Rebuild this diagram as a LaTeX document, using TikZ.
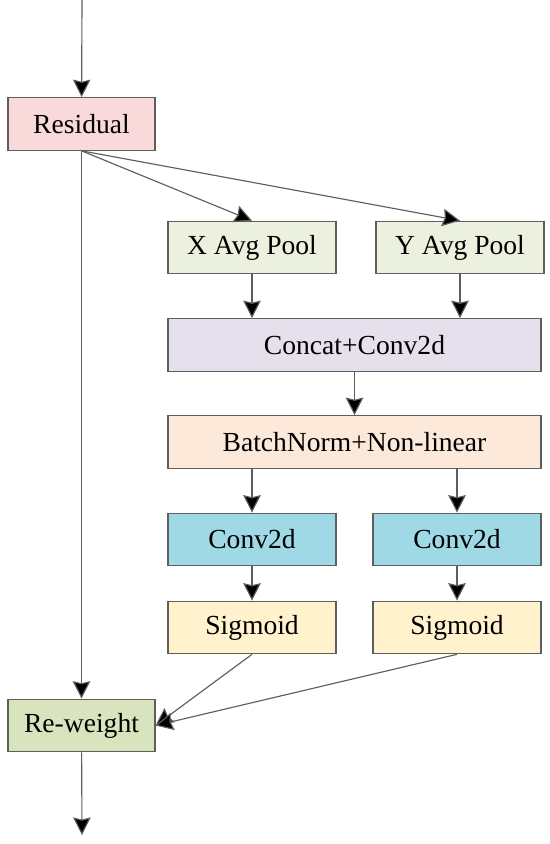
\documentclass[tikz,border=0pt]{standalone}
\usepackage{fontspec}
\setmainfont{Liberation Serif}
\usetikzlibrary{arrows.meta}
\definecolor{resid}{HTML}{F9D9D9}
\definecolor{pool}{HTML}{EBF1DE}
\definecolor{concat}{HTML}{E6E0EC}
\definecolor{bnorm}{HTML}{FDE9D9}
\definecolor{conv}{HTML}{9FD9E6}
\definecolor{sigm}{HTML}{FFF2CC}
\definecolor{rewt}{HTML}{D7E4BD}
\definecolor{edge}{HTML}{5E5E5E}
\tikzset{
  blk/.style={draw=edge, line width=0.65pt, minimum height=1.05cm, inner sep=0pt,
    font=\fontsize{15.7}{18}\selectfont},
  small/.style={blk, minimum width=2.94cm},
  half/.style={blk, minimum width=3.36cm},
  wide/.style={blk, minimum width=7.46cm},
  arr/.style={draw=edge, line width=0.65pt, -{Stealth[length=10pt,width=10pt,inset=1.2pt,fill=black]}}
}
\begin{document}
\begin{tikzpicture}[x=0.02cm, y=-0.02cm]
\useasboundingbox (0,0) rectangle (550,844);
\coordinate (in) at (82,0);
\coordinate (out) at (82,835);
\node[small, fill=resid] (res) at (81.5,124) {Residual};
\node[half, fill=pool] (xpool) at (252,247.5) {X Avg Pool};
\node[half, fill=pool] (ypool) at (460,247.5) {Y Avg Pool};
\node[wide, fill=concat] (cat) at (354.5,345) {Concat+Conv2d};
\node[wide, fill=bnorm] (bn) at (354.5,442) {BatchNorm+Non-linear};
\node[half, fill=conv] (convx) at (252,539.5) {Conv2d};
\node[half, fill=conv] (convy) at (457,539.5) {Conv2d};
\node[half, fill=sigm] (sigx) at (252,627.5) {Sigmoid};
\node[half, fill=sigm] (sigy) at (457,627.5) {Sigmoid};
\node[small, fill=rewt] (rw) at (81.5,725.5) {Re-weight};
% main path
\draw[arr] (in) -- (res);
\draw[arr] (res) -- (rw);
\draw[arr] (rw) -- (out);
% attention branch
\draw[arr] (res.south) -- (xpool.north);
\draw[arr] (res.south) -- (ypool.north);
\draw[arr] (xpool) -- (xpool |- cat.north);
\draw[arr] (ypool) -- (ypool |- cat.north);
\draw[arr] (cat) -- (bn);
\draw[arr] (bn.south -| convx) -- (convx);
\draw[arr] (bn.south -| convy) -- (convy);
\draw[arr] (convx) -- (sigx);
\draw[arr] (convy) -- (sigy);
\draw[arr] (sigx.south) -- (rw.east);
\draw[arr] (sigy.south) -- (rw.east);
\end{tikzpicture}
\end{document}
